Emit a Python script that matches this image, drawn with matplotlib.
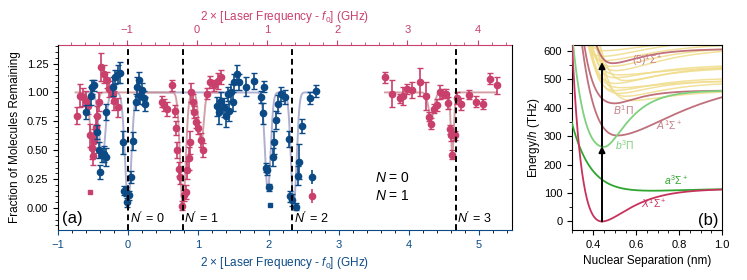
import numpy as np
import matplotlib
matplotlib.use("Agg")
import matplotlib.pyplot as plt
from matplotlib.ticker import AutoMinorLocator, MultipleLocator

plt.rcParams['font.family'] = ['Liberation Sans', 'DejaVu Sans']
plt.rcParams['mathtext.fontset'] = 'custom'
plt.rcParams['mathtext.rm'] = 'Liberation Sans'
plt.rcParams['mathtext.it'] = 'Liberation Sans:italic'
plt.rcParams['font.size'] = 8

# ---- panel (a) data: N = 0 (blue) ----
n0_x = [-0.60, -0.53, -0.51, -0.49, -0.45, -0.41, -0.40, -0.38, -0.35, -0.32, -0.32,
        -0.22, -0.19, -0.14, -0.11, -0.08, -0.06, -0.03, -0.01, 0.01, 0.04, 0.07,
        0.11, 0.13, 0.16, 0.17, 0.19, 0.22, 0.24,
        1.27, 1.30, 1.33, 1.37, 1.40, 1.42, 1.44, 1.47, 1.49, 1.51, 1.55, 1.58,
        1.68, 1.79, 1.89, 1.92, 1.94, 1.97, 1.98, 2.00, 2.06, 2.08, 2.11, 2.13,
        2.18, 2.23, 2.29, 2.31, 2.34, 2.39, 2.42, 2.44, 2.48, 2.59, 2.68]
n0_y = [0.83, 0.97, 1.05, 1.06, 0.66, 0.50, 0.31, 0.46, 0.47, 0.44, 0.83,
        1.05, 1.13, 1.16, 1.17, 0.57, 0.15, 0.14, 0.05, 0.11, 0.27, 0.58,
        0.92, 1.05, 1.11, 0.97, 1.02, 0.95, 0.90,
        0.88, 0.83, 0.93, 0.87, 0.80, 0.99, 0.84, 1.00, 0.92, 1.09, 1.16, 1.09,
        1.05, 1.10, 0.96, 0.82, 1.05, 0.35, 0.33, 0.18, 0.44, 0.57, 0.76, 0.90,
        0.99, 0.96, 0.60, 0.10, 0.07, 0.01, 0.28, 0.40, 0.71, 0.95, 1.01]
n0_err = [0.06, 0.08, 0.06, 0.05, 0.06, 0.07, 0.06, 0.06, 0.07, 0.08, 0.07,
          0.08, 0.06, 0.08, 0.09, 0.10, 0.04, 0.04, 0.04, 0.04, 0.05, 0.08,
          0.07, 0.08, 0.07, 0.07, 0.06, 0.06, 0.06,
          0.08, 0.10, 0.07, 0.08, 0.10, 0.06, 0.09, 0.07, 0.08, 0.07, 0.08, 0.07,
          0.08, 0.07, 0.05, 0.09, 0.05, 0.04, 0.04, 0.03, 0.08, 0.10, 0.08, 0.08,
          0.06, 0.06, 0.07, 0.05, 0.05, 0.03, 0.08, 0.15, 0.06, 0.05, 0.05]
n0_sq_x = [2.02]
n0_sq_y = [0.03]

# ---- panel (a) data: N = 1 (pink) ----
n1_x = [-0.73, -0.68, -0.64, -0.60, -0.57, -0.54, -0.52, -0.50, -0.48, -0.46, -0.44,
        -0.42, -0.39, -0.34, -0.30, -0.27, -0.22, -0.20, -0.15,
        0.48, 0.51, 0.55, 0.62, 0.67, 0.68, 0.70, 0.73, 0.74, 0.77, 0.80, 0.82,
        0.84, 0.86, 0.88, 0.90, 0.92, 0.94, 0.97, 1.00, 1.04, 1.07, 1.13, 1.17,
        1.23, 1.28, 1.32,
        3.66, 3.76, 3.87, 3.92, 3.97, 4.05, 4.16, 4.25, 4.29, 4.32, 4.36, 4.40,
        4.45, 4.49, 4.53, 4.56, 4.58, 4.60, 4.62, 4.66, 4.69, 4.75, 4.86, 4.96,
        5.05, 5.16, 5.25]
n1_y = [0.80, 0.97, 0.96, 0.93, 0.88, 0.63, 0.52, 0.45, 0.58, 0.70, 0.80,
        0.92, 1.22, 1.16, 1.11, 1.03, 0.99, 0.93, 0.87,
        0.92, 0.89, 0.86, 1.06, 0.84, 0.69, 0.50, 0.34, 0.27, 0.02, 0.11, 0.14,
        0.33, 0.43, 0.57, 1.00, 0.92, 0.83, 0.74, 0.69, 0.59, 0.50, 0.99, 1.09,
        1.06, 1.10, 1.13,
        1.13, 0.99, 0.95, 0.97, 1.03, 1.02, 1.09, 0.97, 0.79, 0.73, 0.86, 0.89,
        1.00, 0.99, 0.99, 0.91, 0.68, 0.63, 0.46, 0.63, 0.95, 0.90, 0.98, 0.92,
        0.90, 1.12, 1.06]
n1_err = [0.07, 0.10, 0.08, 0.08, 0.07, 0.10, 0.10, 0.08, 0.10, 0.10, 0.08,
          0.08, 0.12, 0.08, 0.07, 0.07, 0.08, 0.08, 0.08,
          0.05, 0.05, 0.06, 0.05, 0.05, 0.06, 0.07, 0.06, 0.06, 0.04, 0.05, 0.06,
          0.08, 0.10, 0.10, 0.08, 0.07, 0.05, 0.05, 0.05, 0.06, 0.06, 0.05, 0.05,
          0.05, 0.07, 0.06,
          0.05, 0.12, 0.04, 0.08, 0.04, 0.07, 0.12, 0.12, 0.04, 0.05, 0.04, 0.05,
          0.06, 0.04, 0.04, 0.05, 0.04, 0.05, 0.04, 0.04, 0.05, 0.05, 0.04, 0.05,
          0.04, 0.05, 0.07]
n1_sq_x = [-0.54]
n1_sq_y = [0.14]

# fitted dip parameters (centre, depth, width) and fit ranges
fit0_centers = [-0.37, 0.0, 1.99, 2.36]
fit0_depths = [0.58, 0.95, 0.85, 0.97]
fit0_widths = [0.045, 0.045, 0.04, 0.04]
fit0_ranges = [(-0.60, 2.70)]
fit1_centers = [-0.50, 0.78, 1.04, 4.32, 4.62]
fit1_depths = [0.52, 1.0, 0.45, 0.22, 0.52]
fit1_widths = [0.04, 0.04, 0.035, 0.04, 0.022]
fit1_ranges = [(-0.75, 1.32), (3.66, 5.25)]

rot_lines = [0.0, 0.78, 2.34, 4.67]
rot_labels = ["$N'$ = 0", "$N'$ = 1", "$N'$ = 2", "$N'$ = 3"]

# ---- panel (b): potential curves (Tmin, De, re, a_left, a_right) ----
pot_X = (0, 115, 0.44, 8.6, 7.8)
pot_a3 = (108, 7, 0.68, 5.05, 6.0)
pot_b3 = (262, 198, 0.45, 5.9, 10.0)
pot_A = (302, 200, 0.51, 5.0, 3.5)
pot_B = (415, 45, 0.50, 8.0, 9.7)
pot_5 = (556, 50, 0.49, 10.0, 8.0)
pot_yellow = [(425, 35, 0.58, 8, 6), (440, 50, 0.55, 8, 6), (450, 45, 0.52, 8, 7),
              (460, 45, 0.50, 9, 6), (470, 25, 0.53, 8, 6), (485, 55, 0.50, 8, 6),
              (495, 50, 0.55, 8, 6), (505, 45, 0.50, 9, 6), (515, 30, 0.52, 8, 5),
              (530, 80, 0.50, 8, 5), (545, 70, 0.48, 8, 5), (565, 60, 0.45, 9, 5),
              (580, 60, 0.44, 9, 5), (600, 40, 0.45, 9, 5)]
arrow_r = 0.44
arrow_levels = [0, 265, 560]

blue = '#0c4a85'
pink = '#c8406b'
fit0_col = '#9c9cc6'
fit1_col = '#c98a8f'


def dips(x, centers, depths, widths):
    y = np.ones_like(x)
    for c, d, w in zip(centers, depths, widths):
        y -= d * np.exp(-0.5 * ((x - c) / w) ** 2)
    return y


def morse(r, p):
    tmin, de, re, al, ar = p
    a = np.where(r < re, al, ar)
    return tmin + de * (1 - np.exp(-a * (r - re))) ** 2


fig = plt.figure(figsize=(7.47, 2.8), dpi=100)
ax = fig.add_axes([58 / 747, 50 / 280, 454 / 747, 185 / 280])
axb = fig.add_axes([572 / 747, 50 / 280, 150 / 747, 185 / 280])

# fits
for lo, hi in fit0_ranges:
    xx = np.linspace(lo, hi, 600)
    ax.plot(xx, dips(xx, fit0_centers, fit0_depths, fit0_widths), color=fit0_col, lw=1.4, alpha=0.8, zorder=2)
for lo, hi in fit1_ranges:
    xx = np.linspace(lo, hi, 600)
    ax.plot(xx, dips(xx, fit1_centers, fit1_depths, fit1_widths), color=fit1_col, lw=1.4, alpha=0.8, zorder=2)

ebkw = dict(fmt='o', ms=4.5, elinewidth=1.2, capsize=2.5, capthick=1.0)
ax.errorbar(n1_x, n1_y, yerr=n1_err, color=pink, zorder=3, **ebkw)
ax.errorbar(n0_x, n0_y, yerr=n0_err, color=blue, zorder=4, **ebkw)
ax.plot(n1_sq_x, n1_sq_y, 's', color=pink, ms=3.5, zorder=3)
ax.plot(n0_sq_x, n0_sq_y, 's', color=blue, ms=3.5, zorder=4)

for xv, lab in zip(rot_lines, rot_labels):
    ax.axvline(xv, color='k', ls=(0, (3, 2)), lw=1.4, zorder=5)
    ax.text(xv + 0.02, -0.09, lab, fontsize=9, va='center', ha='left')
ax.text(-0.94, -0.09, '(a)', fontsize=12, va='center', ha='left')

h0 = ax.errorbar([], [], yerr=[], color=blue, **ebkw)
h1 = ax.errorbar([], [], yerr=[], color=pink, **ebkw)
ax.legend([h0, h1], ['$N$ = 0', '$N$ = 1'], loc='lower left', bbox_to_anchor=(0.517, 0.076),
          frameon=False, fontsize=10, handlelength=1.0, handletextpad=4.0, labelspacing=0.3)

ax.set_xlim(-1, 5.47)
ax.set_ylim(-0.19, 1.41)
ax.set_yticks([0, 0.25, 0.5, 0.75, 1.0, 1.25])
ax.yaxis.set_minor_locator(AutoMinorLocator(5))
ax.xaxis.set_minor_locator(AutoMinorLocator(5))
ax.set_ylabel('Fraction of Molecules Remaining', fontsize=8.5)
ax.set_xlabel('2 × [Laser Frequency - $f_0$] (GHz)', color=blue, fontsize=8.5)
ax.tick_params(axis='x', colors=blue, labelsize=8)
ax.tick_params(axis='y', labelsize=8)
ax.spines['bottom'].set_color(blue)
ax.spines['top'].set_visible(False)

top = ax.secondary_xaxis('top', functions=(lambda b: b - 0.98, lambda t: t + 0.98))
top.set_xticks([-1, 0, 1, 2, 3, 4])
top.xaxis.set_minor_locator(AutoMinorLocator(5))
top.spines['top'].set_color(pink)
top.tick_params(axis='x', which='both', colors=pink, labelsize=8)
top.set_xlabel('2 × [Laser Frequency - $f_0$] (GHz)', color=pink, fontsize=8.5)

# ---- panel (b) ----
r = np.linspace(0.28, 1.0, 500)
for p in pot_yellow:
    axb.plot(r, morse(r, p), color='#f0dc8a', lw=1.1, alpha=0.85, zorder=1)
for p in (pot_A, pot_B, pot_5):
    axb.plot(r, morse(r, p), color='#b8606c', lw=1.3, alpha=0.9, zorder=2)
axb.plot(r, morse(r, pot_b3), color='#7fd07f', lw=1.3, zorder=3)
axb.plot(r, morse(r, pot_a3), color='#2fa52f', lw=1.3, zorder=3)
axb.plot(r, morse(r, pot_X), color='#c8325e', lw=1.3, zorder=3)

for lo, hi in zip(arrow_levels[:-1], arrow_levels[1:]):
    axb.annotate('', xy=(arrow_r, hi), xytext=(arrow_r, lo),
                 arrowprops=dict(arrowstyle='-|>', color='k', lw=1.4, mutation_scale=9, shrinkA=0, shrinkB=0), zorder=6)

axb.text(0.58, 566, '$(5)^1\\Sigma^+$', color='#c47c86', fontsize=7.5, va='center')
axb.text(0.49, 392, '$B^1\\Pi$', color='#c47c86', fontsize=7.5, va='center')
axb.text(0.69, 340, '$A^1\\Sigma^+$', color='#c47c86', fontsize=7.5, va='center')
axb.text(0.50, 268, '$b^3\\Pi$', color='#7fd07f', fontsize=7.5, va='center')
axb.text(0.73, 147, '$a^3\\Sigma^+$', color='#2fa52f', fontsize=7.5, va='center')
axb.text(0.62, 66, '$X^1\\Sigma^+$', color='#c8325e', fontsize=7.5, va='center')
axb.text(0.985, 5, '(b)', fontsize=12, ha='right', va='center')

axb.set_xlim(0.3, 1.0)
axb.set_ylim(-30, 620)
axb.set_xticks([0.4, 0.6, 0.8, 1.0])
axb.xaxis.set_minor_locator(AutoMinorLocator(4))
axb.yaxis.set_major_locator(MultipleLocator(100))
axb.yaxis.set_minor_locator(AutoMinorLocator(2))
axb.tick_params(labelsize=8)
axb.set_xlabel('Nuclear Separation (nm)', fontsize=8.5)
axb.set_ylabel('Energy/$h$ (THz)', fontsize=8.5, labelpad=1)

fig.savefig('out.png', dpi=100)
